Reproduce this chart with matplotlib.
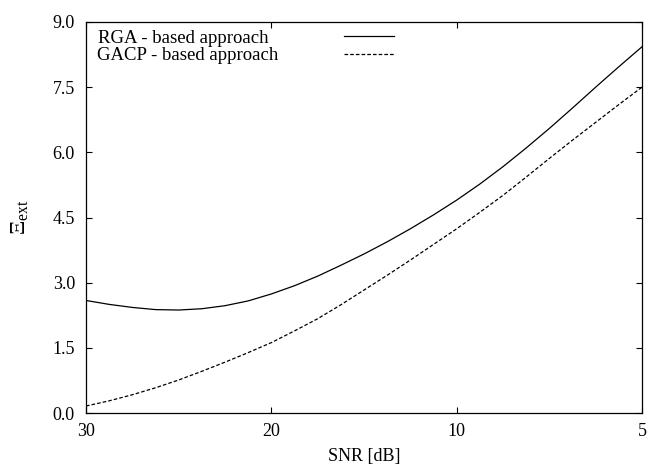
import numpy as np
import matplotlib
matplotlib.use("Agg")
import matplotlib.pyplot as plt

plt.rcParams['font.family'] = ['Liberation Serif', 'DejaVu Serif']
plt.rcParams['mathtext.fontset'] = 'custom'
plt.rcParams['mathtext.rm'] = 'Liberation Serif'
plt.rcParams['mathtext.it'] = 'Liberation Serif:italic'
plt.rcParams['lines.scale_dashes'] = False

# x positions on the axis (ticks are evenly spaced: 30, 20, 10, 5 dB)
pos = [0.0, 0.125, 0.25, 0.375, 0.5, 0.625, 0.75, 0.875, 1.0, 1.125, 1.25, 1.375,
       1.5, 1.625, 1.75, 1.875, 2.0, 2.125, 2.25, 2.375, 2.5, 2.625, 2.75, 2.875, 3.0]
tick_pos = [0, 1, 2, 3]
tick_labels = ['30', '20', '10', '5']

rga = [2.59, 2.50, 2.43, 2.38, 2.37, 2.40, 2.47, 2.58, 2.74, 2.93, 3.15, 3.40,
       3.66, 3.94, 4.24, 4.56, 4.90, 5.27, 5.67, 6.10, 6.55, 7.02, 7.50, 7.97, 8.43]
gacp = [0.16, 0.28, 0.42, 0.58, 0.76, 0.96, 1.17, 1.39, 1.62, 1.89, 2.17, 2.49,
        2.83, 3.17, 3.52, 3.88, 4.24, 4.62, 5.01, 5.43, 5.86, 6.28, 6.69, 7.10, 7.50]

fig = plt.figure(figsize=(6.47, 4.70), dpi=100)
ax = fig.add_axes([86/647, 57/470, 556/647, 391/470])

ax.plot(pos, rga, color='black', lw=0.9, label='RGA - based approach  ')
ax.plot(pos, gacp, color='black', lw=0.9, dashes=(2.6, 1.5), label='GACP - based approach')

ax.set_xlim(0, 3)
ax.set_ylim(0, 9)
ax.set_xticks(tick_pos)
ax.set_xticklabels(tick_labels)
ax.set_yticks(np.arange(0, 9.01, 1.5))
ax.set_yticklabels(['%.1f' % v for v in np.arange(0, 9.01, 1.5)])
ax.tick_params(direction='in', length=4.5, width=0.8, top=True, right=True,
               labelsize=13, pad=8)
ax.tick_params(axis='x', pad=7)
for s in ax.spines.values():
    s.set_linewidth(0.9)

ax.set_xlabel('SNR [dB]', fontsize=13, labelpad=6)
ax.set_ylabel(r'$\Xi_{\rm ext}$', fontsize=16, labelpad=16)

leg = ax.legend(loc='upper left', bbox_to_anchor=(0.02, 0.98), frameon=False,
                markerfirst=False, fontsize=13.5, handlelength=2.67, handletextpad=3.5,
                borderpad=0, borderaxespad=0, labelspacing=0.0)

fig.savefig('out.png', dpi=100)
